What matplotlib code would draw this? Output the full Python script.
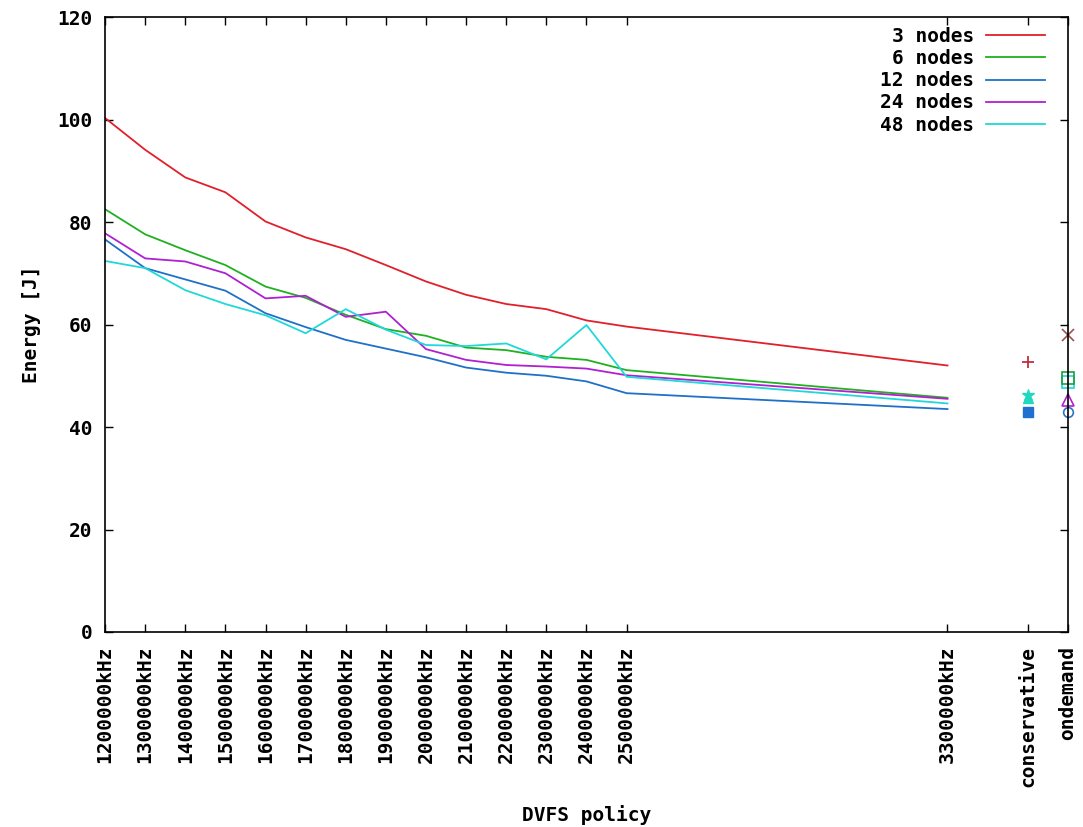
import matplotlib
matplotlib.use("Agg")
import matplotlib.pyplot as plt
import numpy as np

# frequency steps (kHz) and energy per node count
freqs = [1200000, 1300000, 1400000, 1500000, 1600000, 1700000, 1800000,
         1900000, 2000000, 2100000, 2200000, 2300000, 2400000, 2500000, 3300000]

e_3 = [100.3, 94.1, 88.7, 85.8, 80.1, 77.0, 74.7, 71.6, 68.4, 65.8, 64.0, 63.0, 60.8, 59.6, 52.0]
e_6 = [82.5, 77.6, 74.5, 71.6, 67.4, 65.2, 61.9, 59.1, 57.8, 55.5, 55.0, 53.7, 53.1, 51.1, 45.7]
e_12 = [76.6, 71.0, 68.8, 66.6, 62.2, 59.5, 57.0, 55.3, 53.6, 51.6, 50.6, 50.0, 48.9, 46.6, 43.5]
e_24 = [77.8, 72.9, 72.3, 70.0, 65.1, 65.6, 61.5, 62.5, 55.2, 53.1, 52.1, 51.8, 51.4, 50.1, 45.5]
e_48 = [72.4, 71.0, 66.7, 64.0, 61.8, 58.3, 63.0, 59.0, 56.0, 55.8, 56.3, 53.2, 59.9, 49.8, 44.6]

series = [e_3, e_6, e_12, e_24, e_48]
names = ["3 nodes", "6 nodes", "12 nodes", "24 nodes", "48 nodes"]
colors = ["#e0202a", "#20b020", "#2070c8", "#b020d0", "#20d8d8"]

# governor results, plotted after the fixed frequencies
governors = ["conservative", "ondemand"]
gov_x = [3500000, 3600000]
conservative = [52.6, 45.6, 43.0, 45.6, 46.2]
ondemand = [57.9, 49.6, 43.0, 45.3, 48.8]

font = {"family": "DejaVu Sans Mono", "weight": "bold"}
fs = 14

fig = plt.figure(figsize=(10.83, 8.27), dpi=100)
ax = fig.add_axes([0.097, 0.2358, 0.889, 0.7436])

for vals, name, c in zip(series, names, colors):
    ax.plot(freqs, vals, color=c, lw=1.3, label=name)

# conservative points
ax.plot(gov_x[0], conservative[0], marker="+", color="#c03040", ms=9, mew=1.3, ls="none")
ax.plot(gov_x[0], conservative[3], marker="^", color="#20d8c0", ms=7, ls="none")
ax.plot(gov_x[0], conservative[4], marker="*", color="#20d8c0", ms=9, ls="none")
ax.plot(gov_x[0], conservative[2], marker="s", color="#2070d0", ms=7, ls="none")

# ondemand points
ax.plot(gov_x[1], ondemand[0], marker="x", color="#a05050", ms=8, mew=1.2, ls="none", clip_on=False)
ax.plot(gov_x[1], ondemand[4], marker="s", mfc="none", mec="#20d8d8", ms=8, mew=1.2, ls="none", clip_on=False)
ax.plot(gov_x[1], ondemand[1], marker="s", mfc="none", mec="#20a040", ms=8, mew=1.2, ls="none", clip_on=False)
ax.plot(gov_x[1], ondemand[3], marker="^", mfc="none", mec="#b020d0", ms=8, mew=1.2, ls="none", clip_on=False)
ax.plot(gov_x[1], ondemand[2], marker="o", mfc="none", mec="#3070c0", ms=7, mew=1.2, ls="none", clip_on=False)

ax.set_xlim(1200000, 3600000)
ax.set_ylim(0, 120)

xt = freqs + gov_x
xl = ["%dkHz" % f for f in freqs] + governors
ax.set_xticks(xt)
ax.set_xticklabels(xl, rotation=90, va="top", ha="center", fontdict=font, fontsize=fs)
ax.set_yticks(np.arange(0, 121, 20))
ax.set_yticklabels([str(v) for v in range(0, 121, 20)], fontdict=font, fontsize=fs)
ax.tick_params(direction="in", top=True, right=True, length=6, width=1.0, pad=9)
ax.tick_params(axis="x", pad=10)
for s in ax.spines.values():
    s.set_linewidth(1.2)

ax.set_xlabel("DVFS policy", fontdict=font, fontsize=fs, labelpad=13)
ax.set_ylabel("Energy [J]", fontdict=font, fontsize=fs, labelpad=12)

leg = ax.legend(loc="upper right", bbox_to_anchor=(0.994, 1.012), frameon=False,
                markerfirst=False, handlelength=3.0, handletextpad=0.64,
                labelspacing=0.16, prop={"family": "DejaVu Sans Mono", "weight": "bold", "size": fs})

fig.savefig("out.png", dpi=100)
